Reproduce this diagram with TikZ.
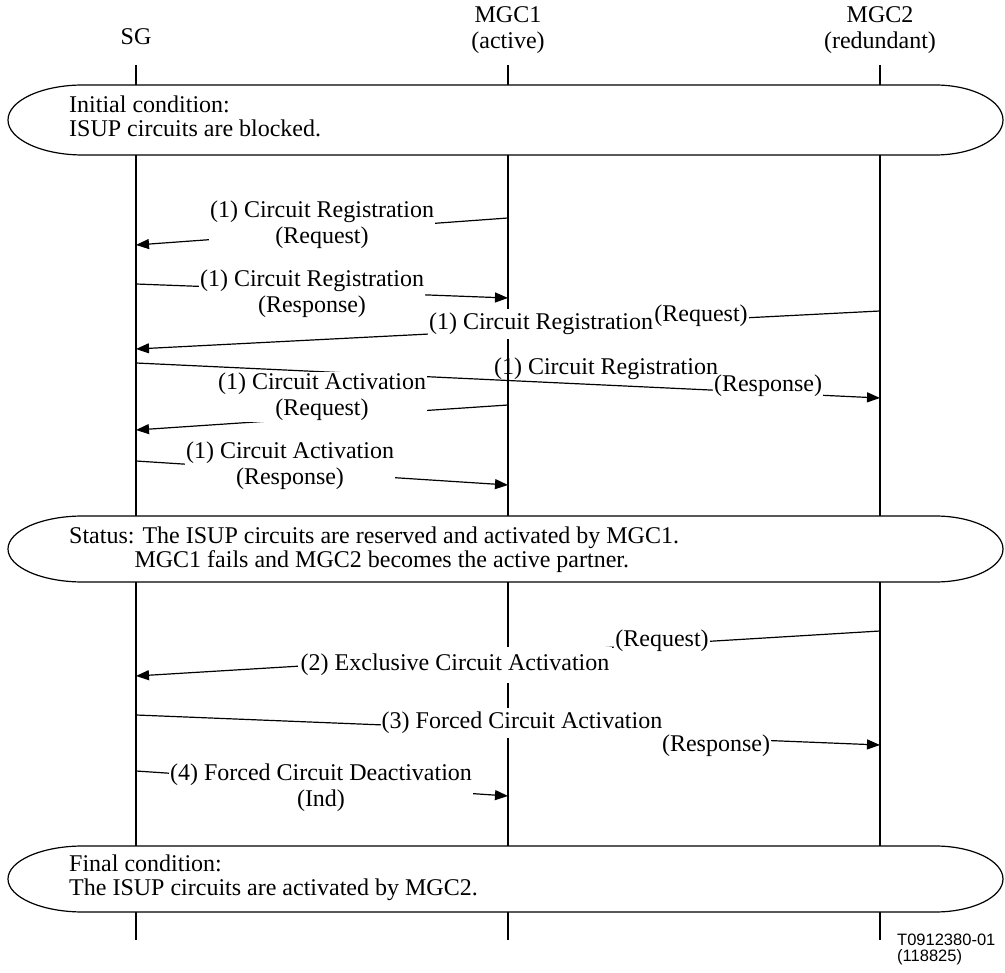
\documentclass[tikz,border=0pt]{standalone}
\usepackage{fontspec}
\setmainfont{Liberation Serif}
\newfontfamily\refsans{Liberation Sans}
\usetikzlibrary{arrows.meta}

% rounded condition box spanning the whole width, from y=#1 to y=#2
\newcommand\condshape[2]{%
  \pgfmathsetmacro\bubMid{(#1+#2)/2}%
  \pgfmathsetmacro\bubUp{\bubMid-0.552*(#2-#1)/2}%
  \pgfmathsetmacro\bubDn{\bubMid+0.552*(#2-#1)/2}%
  \path[bubble] (83,#1) -- (935,#1)
    .. controls (972.5,#1) and (1003,\bubUp) .. (1003,\bubMid)
    .. controls (1003,\bubDn) and (972.5,#2) .. (935,#2)
    -- (83,#2)
    .. controls (41.6,#2) and (8,\bubDn) .. (8,\bubMid)
    .. controls (8,\bubUp) and (41.6,#1) .. (83,#1) -- cycle;}

\begin{document}
\begin{tikzpicture}[x=1pt,y=-1pt,
  every node/.style={font=\fontsize{24}{26}\selectfont, inner sep=1pt},
  lifeline/.style={line width=1.8pt},
  msg/.style={line width=1.2pt, -{Triangle[length=13pt,width=10pt]}},
  lbl/.style={fill=white, align=center},
  plainlbl/.style={align=center},
  bubble/.style={draw, line width=1.2pt, fill=white},
  condtext/.style={anchor=west, align=left, inner sep=0pt,
    font=\fontsize{24}{24}\selectfont},
  refid/.style={anchor=west, inner sep=0pt,
    font=\refsans\fontsize{16.5}{18}\selectfont}]
\useasboundingbox (0,0) rectangle (1005,973);

% entity headers
\node (sg) at (136,37) {SG};
\node[align=center] (mgca) at (508,30) {MGC1\\(active)};
\node[align=center] (mgcb) at (880,30) {MGC2\\(redundant)};

% lifelines
\coordinate (sgT) at (136,65);  \coordinate (sgB) at (136,940);
\coordinate (maT) at (508,65);  \coordinate (maB) at (508,940);
\coordinate (mbT) at (880,65);  \coordinate (mbB) at (880,940);
\draw[lifeline] (sgT) -- (sgB);
\draw[lifeline] (maT) -- (maB);
\draw[lifeline] (mbT) -- (mbB);

% condition boxes
\condshape{85}{155}
\condshape{516}{582}
\condshape{846}{912}
\node[condtext] (cinit) at (69,116)
  {Initial condition:\\ISUP circuits are blocked.};
\node[condtext] (cstat) at (69,550)
  {Status: The ISUP circuits are reserved and activated by MGC1.\\
   \hphantom{Status:}MGC1 fails and MGC2 becomes the active partner.};
\node[condtext] (cfin) at (69,878)
  {Final condition:\\The ISUP circuits are activated by MGC2.};

% message end points
\coordinate (p1a) at (508,218); \coordinate (p1b) at (136,245);
\coordinate (p2a) at (136,284); \coordinate (p2b) at (508,298);
\coordinate (p3a) at (880,311); \coordinate (p3b) at (136,349);
\coordinate (p4a) at (136,363); \coordinate (p4b) at (880,398);
\coordinate (p5a) at (508,405); \coordinate (p5b) at (136,430);
\coordinate (p6a) at (136,461); \coordinate (p6b) at (508,485);
\coordinate (p7a) at (880,631); \coordinate (p7b) at (136,676);
\coordinate (p8a) at (136,715); \coordinate (p8b) at (880,745);
\coordinate (p9a) at (136,771); \coordinate (p9b) at (508,796);

% this label sits under its own message line
\node[plainlbl] (l4a) at (606,369) {(1) Circuit Registration};

% messages
\draw[msg] (p1a) -- (p1b);
\draw[msg] (p2a) -- (p2b);
\draw[msg] (p3a) -- (p3b);
\draw[msg] (p4a) -- (p4b);
\draw[msg] (p5a) -- (p5b);
\draw[msg] (p6a) -- (p6b);
\draw[msg] (p7a) -- (p7b);
\draw[msg] (p8a) -- (p8b);
\draw[msg] (p9a) -- (p9b);

% message labels
\node[lbl] (l1) at (322,225) {(1) Circuit Registration\\(Request)};
\node[lbl] (l2) at (312,294) {(1) Circuit Registration\\(Response)};
\node[lbl, inner ysep=4pt] (l3a) at (541,324) {(1) Circuit Registration};
\node[lbl] (l3b) at (701,316) {(Request)};
\node[lbl] (l4b) at (768,386) {(Response)};
\node[lbl] (l5) at (322,397) {(1) Circuit Activation\\(Request)};
\node[lbl] (l6) at (290,466) {(1) Circuit Activation\\(Response)};
\node[lbl, inner ysep=7pt, inner xsep=3pt] (l7a) at (455,665) {(2) Exclusive Circuit Activation};
\node[lbl] (l7b) at (662,641) {(Request)};
\node[lbl, inner ysep=4pt] (l8a) at (522,723) {(3) Forced Circuit Activation};
\node[lbl] (l8b) at (716,746) {(Response)};
\node[lbl] (l9) at (321,788) {(4) Forced Circuit Deactivation\\(Ind)};

% figure reference
\node[refid] (fid) at (897,940) {T0912380-01};
\node[refid] (fno) at (897,957) {(118825)};
\end{tikzpicture}
\end{document}
